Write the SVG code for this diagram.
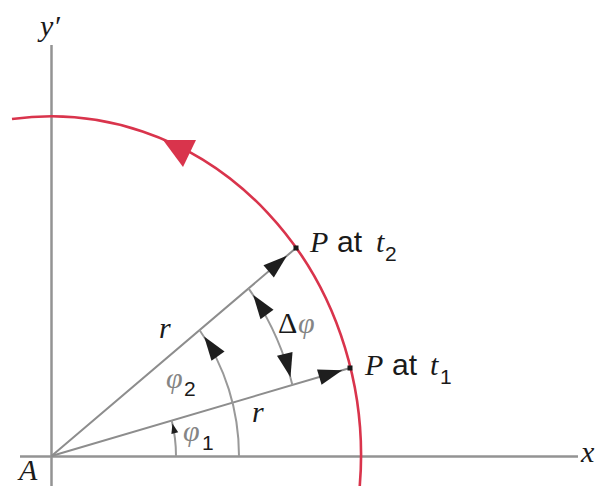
<svg xmlns="http://www.w3.org/2000/svg" width="596" height="486" viewBox="0 0 596 486">
<style>
.axis{stroke:#939393;stroke-width:2.5;fill:none}
.vec{stroke:#8d8d8d;stroke-width:2;fill:none}
.arc{stroke:#999999;stroke-width:2;fill:none}
.orbit{stroke:#d9344c;stroke-width:2.6;fill:none}
.lbl{font-family:"Liberation Serif","Times New Roman",serif;font-style:italic;font-size:30px;fill:#1a1a1a}
.sans{font-family:"Liberation Sans",Arial,sans-serif;font-style:normal}
.up{font-style:normal}
.sub{font-size:21px;font-style:normal;font-family:"Liberation Sans",Arial,sans-serif}
.phi{fill:#858585}
.dot{fill:#1a1a1a}
</style>
<defs>
<marker id="ah" markerUnits="userSpaceOnUse" markerWidth="40" markerHeight="20" refX="24" refY="8" orient="auto" overflow="visible"><path d="M0,0 L24,8 L0,16 z" fill="#1e1e1e"/></marker>
<marker id="ahb" markerUnits="userSpaceOnUse" markerWidth="40" markerHeight="20" refX="32" refY="8" orient="auto-start-reverse" overflow="visible"><path d="M0,0 L24,8 L0,16 z" fill="#1e1e1e"/></marker>
<marker id="ahs" markerUnits="userSpaceOnUse" markerWidth="20" markerHeight="10" refX="13" refY="3.5" orient="auto" overflow="visible"><path d="M0,0 L10,3.5 L0,7 z" fill="#1e1e1e"/></marker>
</defs>

<g id="axes">
<line class="axis" x1="51.5" y1="45" x2="51.5" y2="486"/>
<line class="axis" x1="20" y1="456.5" x2="578" y2="456.5"/>
</g>

<g id="orbit">
<path class="orbit" d="M12,119 A310 339 0 0 1 359.4,490"/>
<polygon points="163,140 196,140 183,167" fill="#d9344c"/>
</g>

<g id="connectors">
<path id="r2" class="vec" d="M51.5,456 L286.9,255.8 L296,248" marker-mid="url(#ah)"/>
<path id="r1" class="vec" d="M51.5,456 L342.3,370.3 L350,368" marker-mid="url(#ah)"/>
<path id="arc-phi1" class="arc" d="M176,456 A125 136.7 0 0 0 171.7,420.5" marker-end="url(#ahs)"/>
<path id="arc-phi2" class="arc" d="M239,456 A188 205.6 0 0 0 199.5,330" marker-end="url(#ahb)"/>
<path id="arc-dphi" class="arc" d="M292.4,385 A250 273.4 0 0 0 248.5,288.4" marker-start="url(#ahb)" marker-end="url(#ahb)"/>
</g>

<g id="point-p2"><rect class="dot" x="293.5" y="245.5" width="5" height="5"/></g>
<g id="point-p1"><rect class="dot" x="347.5" y="365.5" width="5" height="5"/></g>

<g id="labels">
<text class="lbl" x="40" y="36">y′</text>
<text class="lbl" x="19" y="480">A</text>
<text class="lbl" x="581" y="462">x</text>
<text class="lbl" x="159" y="338">r</text>
<text class="lbl" x="252" y="422">r</text>
<text class="lbl" y="252"><tspan x="310">P</tspan><tspan class="sans" x="337">at</tspan><tspan x="376">t</tspan><tspan class="sub" x="385" y="261">2</tspan></text>
<text class="lbl" y="375"><tspan x="365">P</tspan><tspan class="sans" x="392">at</tspan><tspan x="430">t</tspan><tspan class="sub" x="440" y="384">1</tspan></text>
<text class="lbl" y="388"><tspan class="phi" x="166">φ</tspan><tspan class="sub" x="184" y="396">2</tspan></text>
<text class="lbl" y="441"><tspan class="phi" x="183">φ</tspan><tspan class="sub" x="202" y="450">1</tspan></text>
<text class="lbl" y="333"><tspan class="up" x="278">Δ</tspan><tspan class="phi" x="298">φ</tspan></text>
</g>
</svg>
